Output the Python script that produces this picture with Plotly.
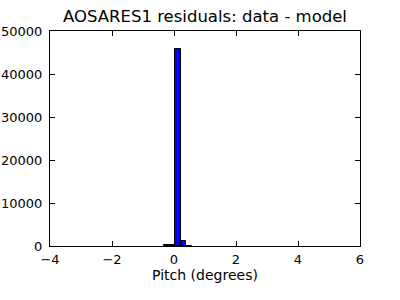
import plotly.graph_objects as go

bin_left_edges = [-0.32, -0.14, 0.04, 0.22, 0.40]
bin_width = 0.18
counts = [120, 300, 45900, 1150, 100]

x_ticks = [-4, -2, 0, 2, 4, 6]
x_tick_text = ["\u22124", "\u22122", "0", "2", "4", "6"]
y_ticks = [0, 10000, 20000, 30000, 40000, 50000]
y_tick_text = ["0", "10000", "20000", "30000", "40000", "50000"]

centers = [e + bin_width / 2 for e in bin_left_edges]

fig = go.Figure()
fig.add_trace(go.Bar(
    x=centers, y=counts, width=[bin_width] * len(counts),
    marker=dict(color="#0000ff", line=dict(color="black", width=1)),
))

font = "DejaVu Sans, sans-serif"
fig.update_layout(
    width=400, height=300,
    margin=dict(l=50, r=40, t=31, b=54),
    paper_bgcolor="white", plot_bgcolor="white",
    showlegend=False,
    title=dict(text="AOSARES1 residuals: data - model", x=0.5125, xanchor="center",
               y=0.945, yanchor="middle", font=dict(family=font, size=16.5, color="black")),
    font=dict(family=font, size=12, color="black"),
    bargap=0,
)
fig.update_xaxes(
    range=[-4, 6], tickvals=x_ticks, ticktext=x_tick_text,
    ticks="inside", ticklen=5, tickcolor="black", showline=True, linecolor="black", linewidth=1,
    mirror="ticks", showgrid=False, zeroline=False, automargin=False,
    title=dict(text="Pitch (degrees)", font=dict(family=font, size=14), standoff=4),
    tickfont=dict(size=13), ticklabelstandoff=1,
)
fig.update_yaxes(
    range=[0, 50000], tickvals=y_ticks, ticktext=y_tick_text,
    ticks="inside", ticklen=5, tickcolor="black", showline=True, linecolor="black", linewidth=1,
    mirror="ticks", showgrid=False, zeroline=False, tickfont=dict(size=13),
    ticklabelstandoff=4, automargin=False,
)
fig.write_html("out.html")
